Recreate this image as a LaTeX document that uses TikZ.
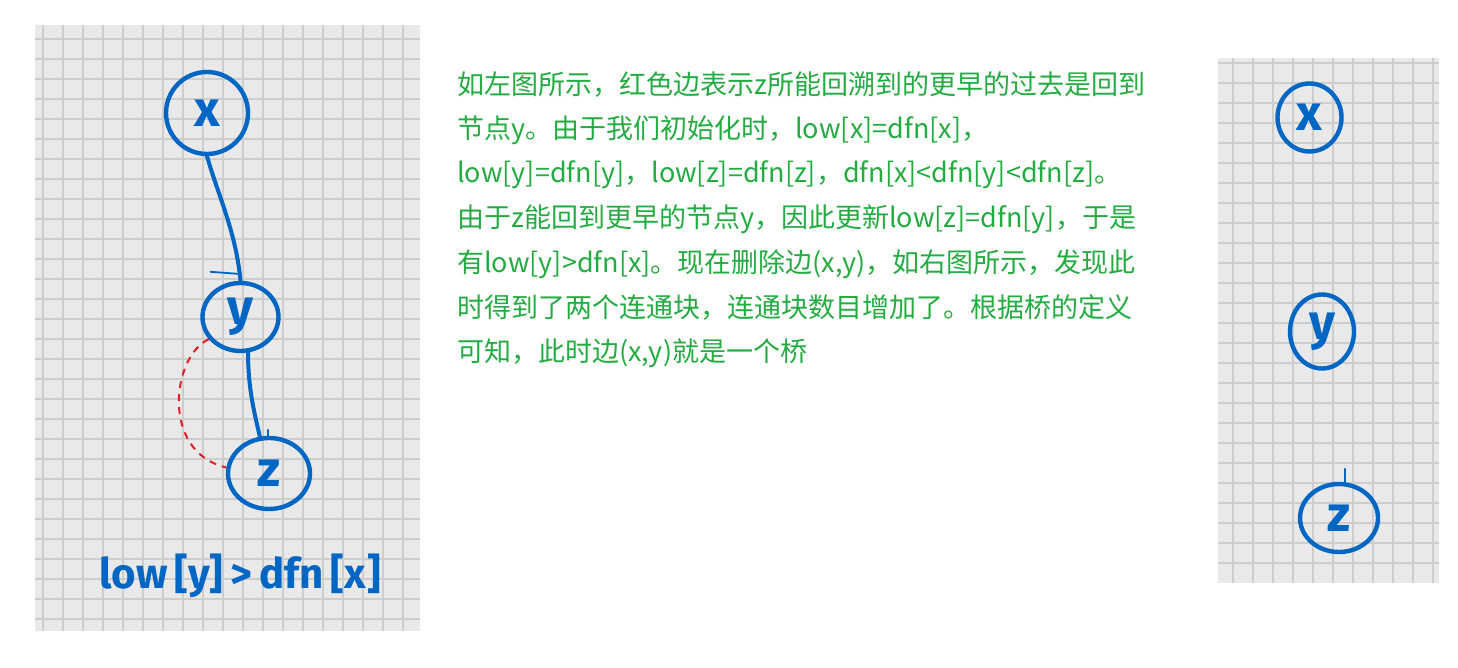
\documentclass[tikz,border=0pt]{standalone}
\usepackage{fontspec}
\usetikzlibrary{shapes.geometric,calc}
\newfontfamily\cjk{Noto Sans CJK SC}
\newfontfamily\hand{Fira Sans}
\definecolor{inkblue}{RGB}{0,102,196}
\definecolor{txtgreen}{RGB}{36,172,66}
\definecolor{gridbg}{RGB}{233,233,233}
\definecolor{gridln}{RGB}{205,205,205}
\definecolor{dashred}{RGB}{226,30,40}
\tikzset{
  panel/.style={fill=gridbg, draw=none},
  gridline/.style={draw=gridln, line width=1.8pt},
  vertex/.style={ellipse, draw=inkblue, line width=4.4pt, inner sep=0pt,
    text=inkblue, font=\hand\bfseries\fontsize{50}{50}\selectfont},
  ink/.style={draw=inkblue, line width=4pt, line cap=round},
  thinink/.style={draw=inkblue, line width=1.8pt, line cap=round},
  reddash/.style={draw=dashred, line width=2pt, dash pattern=on 7pt off 6pt},
  txt/.style={anchor=west, inner sep=0pt, text=txtgreen, font=\cjk\fontsize{27}{27}\selectfont},
  handlabel/.style={inner sep=0pt, text=inkblue, font=\hand\bfseries\fontsize{42}{42}\selectfont}
}
\begin{document}
\begin{tikzpicture}[x=1pt,y=-1pt]
\useasboundingbox (0,0) rectangle (1458,668);
\fill[white] (0,0) rectangle (1458,668);
% left panel
\fill[panel] (35,25) rectangle (420,631);
\foreach \k in {0,...,18} \draw[gridline] (42.7+20*\k,25) -- (42.7+20*\k,631);
\foreach \k in {0,...,29} \draw[gridline] (35,39+20*\k) -- (420,39+20*\k);
% right panel
\fill[panel] (1218,58) rectangle (1439,583);
\foreach \k in {0,...,10} \draw[gridline] (1233.3+20*\k,58) -- (1233.3+20*\k,583);
\foreach \k in {0,...,25} \draw[gridline] (1218,62.7+20*\k) -- (1439,62.7+20*\k);

% left graph
\node[vertex, minimum width=82pt, minimum height=82pt] (x) at (207,113) {x};
\node[vertex, minimum width=76pt, minimum height=68pt] (y) at (240.5,317) {y};
\node[vertex, minimum width=82pt, minimum height=71pt] (z) at (269,473.5) {z};
\draw[ink] (x.south) .. controls (218,195) and (236,232) .. (y.north);
\draw[thinink] ($(y.north)+(-30,-9)$) -- ($(y.north)+(-3,-7)$);
\draw[ink] (y.282) .. controls (248,390) and (255,415) .. (z.104);
\draw[thinink] ($(z.north)+(-1,-6)$) -- ($(z.north)+(-1,3)$);
\draw[reddash] (y.215) .. controls (172,356) and (160,452) .. (z.172);
\node[handlabel] (lbl) at (240,576) {low\,[y]\,>\,dfn\,[x]};

% right graph
\node[vertex, minimum width=64pt, minimum height=68pt] (rx) at (1309.5,117.5) {x};
\node[vertex, minimum width=64pt, minimum height=74pt] (ry) at (1322,331.5) {y};
\node[vertex, minimum width=78pt, minimum height=68pt] (rz) at (1339,518) {z};
\draw[thinink] ($(rz.north)+(6,-13)$) -- ($(rz.north)+(6,2)$);

% text
\node[txt] (t1) at (457,85) {如左图所示，红色边表示z所能回溯到的更早的过去是回到};
\node[txt] (t2) at (457,130) {节点y。由于我们初始化时，low[x]=dfn[x]，};
\node[txt] (t3) at (457,175) {low[y]=dfn[y]，low[z]=dfn[z]，dfn[x]<dfn[y]<dfn[z]。};
\node[txt] (t4) at (457,219) {由于z能回到更早的节点y，因此更新low[z]=dfn[y]，于是};
\node[txt] (t5) at (457,264) {有low[y]>dfn[x]。现在删除边(x,y)，如右图所示，发现此};
\node[txt] (t6) at (457,308) {时得到了两个连通块，连通块数目增加了。根据桥的定义};
\node[txt] (t7) at (457,353) {可知，此时边(x,y)就是一个桥};
\end{tikzpicture}
\end{document}
